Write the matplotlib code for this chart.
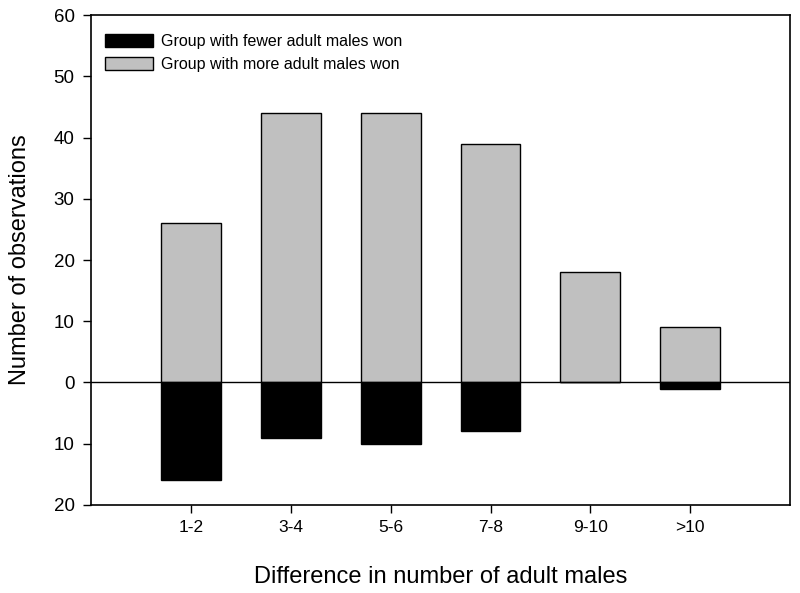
import matplotlib
matplotlib.use("Agg")
import matplotlib.pyplot as plt
import numpy as np

categories = ["1-2", "3-4", "5-6", "7-8", "9-10", ">10"]
more_males_won = [26, 44, 44, 39, 18, 9]
fewer_males_won = [16, 9, 10, 8, 0, 1]
yticks = [-20, -10, 0, 10, 20, 30, 40, 50, 60]
ytick_labels = ["20", "10", "0", "10", "20", "30", "40", "50", "60"]

plt.rcParams['font.family'] = ['Liberation Sans', 'DejaVu Sans']

fig = plt.figure(figsize=(8.0, 5.93), dpi=100)
ax = fig.add_axes([0.114, 0.1484, 0.8735, 0.8263])

x = np.arange(len(categories))
ax.bar(x, [-v for v in fewer_males_won], width=0.6, color="black", edgecolor="black",
       linewidth=1.0, label="Group with fewer adult males won", zorder=2)
ax.bar(x, more_males_won, width=0.6, color="#c0c0c0", edgecolor="black",
       linewidth=1.0, label="Group with more adult males won", zorder=2)
ax.axhline(0, color="black", linewidth=1.0, zorder=3)

ax.set_xlim(-1, 6)
ax.set_ylim(-20, 60)
ax.set_xticks(x)
ax.set_xticklabels(categories, fontsize=12.5)
ax.set_yticks(yticks)
ax.set_yticklabels(ytick_labels, fontsize=13.5)
ax.tick_params(direction="out", length=6, width=1.0)
ax.tick_params(axis="y", pad=6)
ax.tick_params(axis="x", pad=5)
for s in ax.spines.values():
    s.set_linewidth(1.2)

ax.set_xlabel("Difference in number of adult males", fontsize=17, labelpad=22)
ax.set_ylabel("Number of observations", fontsize=17, labelpad=16)

ax.legend(loc="upper left", frameon=False, fontsize=11.5, handlelength=3.0,
          handleheight=0.9, handletextpad=0.5, labelspacing=0.5,
          borderaxespad=0.9, bbox_to_anchor=(-0.01, 1.004))

fig.savefig("out.png", dpi=100)
